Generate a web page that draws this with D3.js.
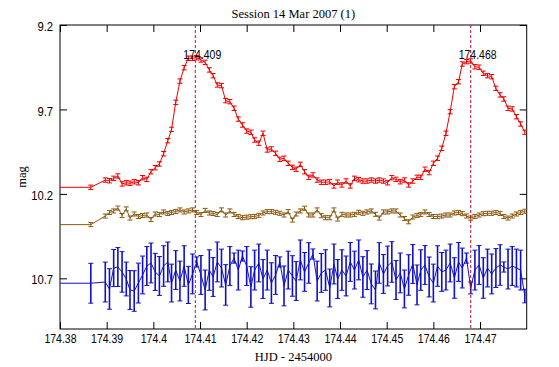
<!DOCTYPE html>
<html>
<head>
<meta charset="utf-8">
<script src="https://cdn.jsdelivr.net/npm/d3@7"></script>
<style>
html, body { margin: 0; padding: 0; background: #fff; }
svg { display: block; }
.sans { font-family: "Liberation Sans", Arial, sans-serif; font-size: 12.5px; }
.serif { font-family: "Liberation Serif", "Times New Roman", serif; font-size: 12.5px; }
</style>
</head>
<body>
<svg id="chart" width="559" height="367"></svg>
<script>
// HJD - 2454000
var times = [174.3866,
  174.3897, 174.3906, 174.3915, 174.3924, 174.3933, 174.3942, 174.3950, 174.3959, 174.3968, 174.3977,
  174.3986, 174.3995, 174.4004, 174.4013, 174.4022, 174.4031, 174.4039, 174.4048, 174.4057, 174.4066,
  174.4075, 174.4084, 174.4093, 174.4102, 174.4111, 174.4120, 174.4128, 174.4137, 174.4146, 174.4155,
  174.4164, 174.4173, 174.4182, 174.4191, 174.4200, 174.4209, 174.4217, 174.4226, 174.4235, 174.4244,
  174.4253, 174.4262, 174.4271, 174.4280, 174.4289, 174.4298, 174.4306, 174.4315, 174.4324, 174.4333,
  174.4342, 174.4351, 174.4360, 174.4369, 174.4378, 174.4387, 174.4395, 174.4404, 174.4413, 174.4422,
  174.4431, 174.4440, 174.4449, 174.4458, 174.4467, 174.4476, 174.4484, 174.4493, 174.4502, 174.4511,
  174.4520, 174.4529, 174.4538, 174.4547, 174.4556, 174.4565, 174.4573, 174.4582, 174.4591, 174.4600,
  174.4609, 174.4618, 174.4627, 174.4636, 174.4645, 174.4654, 174.4662, 174.4671, 174.4680, 174.4689,
  174.4698, 174.4707, 174.4716, 174.4725, 174.4734, 174.4743, 174.4751, 174.4760, 174.4769, 174.4778,
  174.4787, 174.4796];

// variable star
var redMag = [10.161,
  10.118, 10.122, 10.108, 10.094, 10.141, 10.134, 10.137, 10.128, 10.134, 10.104,
  10.114, 10.069, 10.045, 10.023, 9.962, 9.885, 9.818, 9.658, 9.532, 9.453,
  9.397, 9.397, 9.394, 9.407, 9.421, 9.466, 9.500, 9.555, 9.559, 9.648,
  9.654, 9.693, 9.757, 9.792, 9.828, 9.835, 9.881, 9.900, 9.841, 9.940,
  9.934, 9.960, 9.995, 9.989, 10.019, 10.043, 10.054, 10.025, 10.069, 10.102,
  10.088, 10.118, 10.131, 10.131, 10.128, 10.153, 10.131, 10.147, 10.124, 10.153,
  10.108, 10.116, 10.124, 10.124, 10.118, 10.124, 10.118, 10.124, 10.134, 10.104,
  10.114, 10.128, 10.118, 10.147, 10.124, 10.102, 10.102, 10.054, 10.074, 10.019,
  9.989, 9.930, 9.841, 9.713, 9.565, 9.536, 9.431, 9.417, 9.413, 9.447,
  9.450, 9.486, 9.500, 9.506, 9.575, 9.614, 9.638, 9.693, 9.697, 9.743,
  9.786, 9.835];
var redErr = 0.013;

// comparison star
var brownMag = [10.382,
  10.331, 10.310, 10.301, 10.284, 10.328, 10.289, 10.343, 10.319, 10.334, 10.328,
  10.325, 10.352, 10.319, 10.322, 10.307, 10.316, 10.310, 10.304, 10.295, 10.307,
  10.301, 10.295, 10.310, 10.322, 10.298, 10.313, 10.316, 10.322, 10.295, 10.325,
  10.301, 10.322, 10.334, 10.341, 10.338, 10.335, 10.334, 10.327, 10.313, 10.305,
  10.305, 10.309, 10.315, 10.325, 10.305, 10.355, 10.319, 10.301, 10.285, 10.325,
  10.325, 10.295, 10.329, 10.341, 10.341, 10.295, 10.349, 10.321, 10.325, 10.325,
  10.321, 10.309, 10.315, 10.307, 10.301, 10.321, 10.343, 10.307, 10.307, 10.301,
  10.301, 10.325, 10.346, 10.365, 10.337, 10.328, 10.322, 10.307, 10.322, 10.334,
  10.335, 10.331, 10.325, 10.325, 10.313, 10.310, 10.317, 10.331, 10.343, 10.334,
  10.325, 10.317, 10.315, 10.315, 10.310, 10.316, 10.334, 10.343, 10.331, 10.319,
  10.310, 10.303];
var brownErr = 0.012;

// check star
var blueMag = [10.729,
  10.722, 10.763, 10.639, 10.633, 10.662, 10.704, 10.769, 10.775, 10.728, 10.680,
  10.627, 10.609, 10.662, 10.686, 10.627, 10.603, 10.728, 10.651, 10.716, 10.627,
  10.739, 10.674, 10.603, 10.680, 10.769, 10.651, 10.692, 10.603, 10.639, 10.739,
  10.627, 10.580, 10.651, 10.568, 10.627, 10.751, 10.651, 10.609, 10.704, 10.651,
  10.728, 10.680, 10.603, 10.745, 10.651, 10.686, 10.716, 10.591, 10.662, 10.609,
  10.556, 10.716, 10.668, 10.651, 10.757, 10.615, 10.704, 10.651, 10.686, 10.603,
  10.651, 10.591, 10.692, 10.651, 10.733, 10.769, 10.609, 10.674, 10.627, 10.603,
  10.710, 10.668, 10.763, 10.680, 10.615, 10.739, 10.651, 10.621, 10.692, 10.728,
  10.627, 10.662, 10.651, 10.609, 10.698, 10.603, 10.639, 10.580, 10.757, 10.651,
  10.621, 10.698, 10.639, 10.674, 10.639, 10.621, 10.633, 10.645, 10.627, 10.639,
  10.651, 10.805];
var blueErr = [0.118,
  0.118, 0.120, 0.110, 0.115, 0.120, 0.100, 0.115, 0.120, 0.118, 0.112,
  0.115, 0.118, 0.110, 0.115, 0.120, 0.118, 0.112, 0.115, 0.118, 0.120,
  0.110, 0.118, 0.030, 0.115, 0.118, 0.120, 0.115, 0.118, 0.112, 0.120,
  0.115, 0.030, 0.118, 0.030, 0.115, 0.120, 0.118, 0.112, 0.115, 0.118,
  0.120, 0.115, 0.030, 0.118, 0.112, 0.120, 0.115, 0.118, 0.115, 0.120,
  0.030, 0.118, 0.115, 0.120, 0.112, 0.118, 0.115, 0.120, 0.118, 0.115,
  0.112, 0.118, 0.120, 0.115, 0.118, 0.112, 0.120, 0.115, 0.118, 0.120,
  0.115, 0.118, 0.112, 0.120, 0.115, 0.118, 0.120, 0.115, 0.118, 0.112,
  0.120, 0.115, 0.118, 0.112, 0.120, 0.115, 0.118, 0.030, 0.035, 0.118,
  0.115, 0.120, 0.112, 0.118, 0.115, 0.120, 0.030, 0.118, 0.115, 0.112,
  0.118, 0.040];

var peakTimes = [174.409, 174.468];
var xTicks = [174.38, 174.39, 174.4, 174.41, 174.42, 174.43, 174.44, 174.45, 174.46, 174.47];
var yTicks = [9.2, 9.7, 10.2, 10.7];
var titleText = "Session 14 Mar 2007 (1)";
var xLabel = "HJD - 2454000";
var yLabel = "mag";

var width = 559, height = 367;
var margin = {top: 25, right: 32.3, bottom: 38, left: 60};
var pw = width - margin.left - margin.right;
var ph = height - margin.top - margin.bottom;
var narrow = 0.84;   // the original numbers are set in a narrow sans face

var svg = d3.select("#chart");
var g = svg.append("g").attr("transform", "translate(" + margin.left + "," + margin.top + ")");

var x = d3.scaleLinear().domain([174.38, 174.48]).range([0, pw]);
var y = d3.scaleLinear().domain([9.2, 11.0]).range([0, ph]);

g.append("clipPath").attr("id", "clip")
  .append("rect").attr("width", pw).attr("height", ph);

// axes, ticks pointing inward on all four sides
var fmt = function(d) { return String(d); };
var xb = g.append("g").attr("class", "sans").attr("transform", "translate(0," + ph + ")")
  .call(d3.axisBottom(x).tickValues(xTicks).tickSize(-7).tickSizeOuter(0).tickPadding(5).tickFormat(fmt));
var xt = g.append("g")
  .call(d3.axisTop(x).tickValues(xTicks).tickSize(-7).tickSizeOuter(0).tickFormat(""));
var yl = g.append("g").attr("class", "sans")
  .call(d3.axisLeft(y).tickValues(yTicks).tickSize(-7).tickSizeOuter(0).tickFormat(fmt));
var yr = g.append("g").attr("transform", "translate(" + pw + ",0)")
  .call(d3.axisRight(y).tickValues(yTicks).tickSize(-7).tickSizeOuter(0).tickFormat(""));

[xb, xt, yl, yr].forEach(function(a) {
  a.select(".domain").remove();
  a.selectAll("text").attr("font-family", null).attr("font-size", null).attr("fill", "#000");
  a.selectAll(".tick line").attr("stroke", "#000");
});
xb.selectAll("text").attr("transform", "scale(" + narrow + ",1)");
yl.selectAll("text").attr("dy", "0.45em").attr("x", -7 / 0.9)
  .attr("transform", "scale(0.9,1)");

g.append("rect").attr("width", pw).attr("height", ph)
  .attr("fill", "none").attr("stroke", "#000").attr("stroke-width", 1);

// series
var series = [
  {mag: redMag, err: redMag.map(function() { return redErr; }), color: "#ee0000", bw: 1},
  {mag: brownMag, err: brownMag.map(function() { return brownErr; }), color: "#8a5a12", bw: 1},
  {mag: blueMag, err: blueErr, color: "#1010c8", bw: 1.6}
];

var plot = g.append("g").attr("clip-path", "url(#clip)");
var line = d3.line().x(function(d) { return x(d[0]); }).y(function(d) { return y(d[1]); });
var cap = 2.5;

series.forEach(function(s) {
  var pts = times.map(function(t, i) { return [t, s.mag[i], s.err[i]]; });
  // the trace is carried flat back to the left edge of the frame
  var path = [[x.domain()[0], s.mag[0]]].concat(pts);
  plot.append("path").attr("d", line(path))
    .attr("fill", "none").attr("stroke", s.color).attr("stroke-width", 1);
  var eb = plot.append("g").attr("stroke", s.color).attr("stroke-width", s.bw);
  pts.forEach(function(p) {
    var px = x(p[0]), y1 = y(p[1] - p[2]), y2 = y(p[1] + p[2]);
    eb.append("line").attr("x1", px).attr("x2", px).attr("y1", y1).attr("y2", y2);
    eb.append("line").attr("x1", px - cap).attr("x2", px + cap).attr("y1", y1).attr("y2", y1).attr("stroke-width", 1);
    eb.append("line").attr("x1", px - cap).attr("x2", px + cap).attr("y1", y2).attr("y2", y2).attr("stroke-width", 1);
  });
});

// maxima markers
peakTimes.forEach(function(t) {
  g.append("line").attr("x1", x(t)).attr("x2", x(t)).attr("y1", 0).attr("y2", ph)
    .attr("stroke", "#c8102e").attr("stroke-width", 1).attr("stroke-dasharray", "3,2");
  g.append("g").attr("transform", "translate(" + (x(t) - 12) + ",34)")
    .append("text").attr("class", "sans").attr("transform", "scale(" + narrow + ",1)")
    .attr("fill", "#000").text(String(t));
});

// titles
svg.append("text").attr("class", "serif").attr("x", margin.left + pw / 2).attr("y", 18.3)
  .attr("text-anchor", "middle").attr("fill", "#000").text(titleText);
svg.append("text").attr("class", "serif").attr("x", margin.left + pw / 2).attr("y", 360.5)
  .attr("text-anchor", "middle").attr("fill", "#000").text(xLabel);
svg.append("text").attr("class", "serif")
  .attr("transform", "translate(26," + (margin.top + ph / 2) + ") rotate(-90)")
  .attr("text-anchor", "middle").attr("fill", "#000").text(yLabel);
</script>
</body>
</html>
